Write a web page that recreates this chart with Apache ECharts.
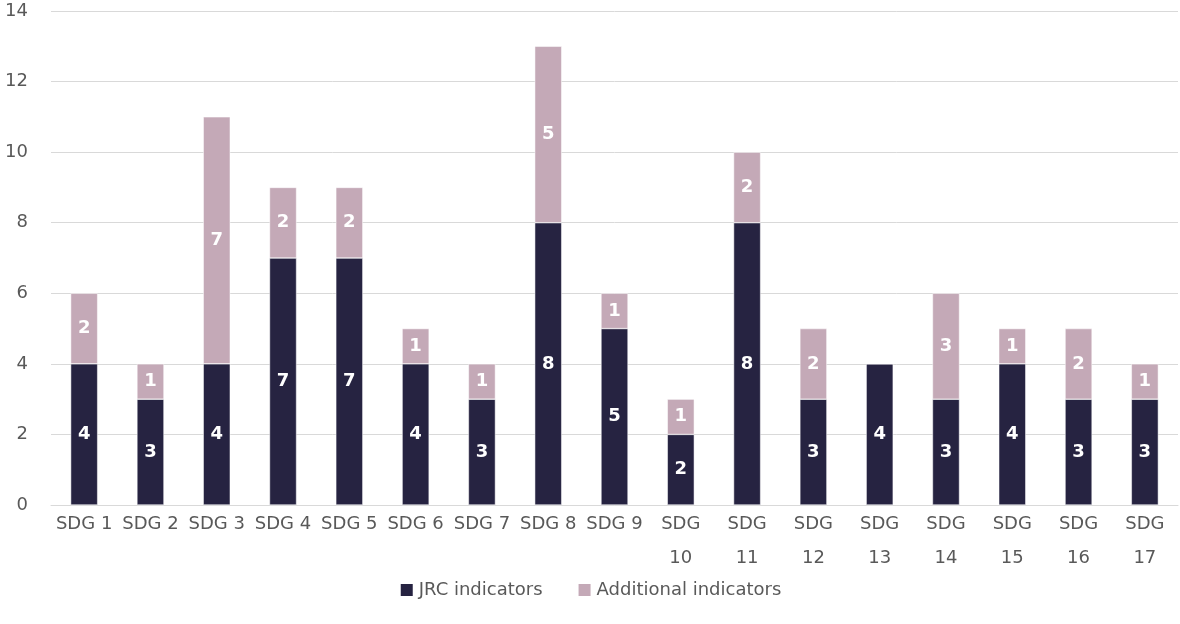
<!DOCTYPE html>
<html>
<head>
<meta charset="utf-8">
<script src="https://cdn.jsdelivr.net/npm/echarts@6/dist/echarts.min.js"></script>
<style>
  html, body { margin: 0; padding: 0; background: #fff; }
  #chart { width: 1180px; height: 624px; }
</style>
</head>
<body>
<div id="chart"></div>
<script>
// SDG goals on the horizontal axis
const categories = ['SDG 1', 'SDG 2', 'SDG 3', 'SDG 4', 'SDG 5', 'SDG 6', 'SDG 7', 'SDG 8', 'SDG 9',
  'SDG 10', 'SDG 11', 'SDG 12', 'SDG 13', 'SDG 14', 'SDG 15', 'SDG 16', 'SDG 17'];
// Number of indicators per goal
const jrcIndicators = [4, 3, 4, 7, 7, 4, 3, 8, 5, 2, 8, 3, 4, 3, 4, 3, 3];
const additionalIndicators = [2, 1, 7, 2, 2, 1, 1, 5, 1, 1, 2, 2, 0, 3, 1, 2, 1];
const seriesNames = ['JRC indicators', 'Additional indicators'];

const FONT = '"DejaVu Sans", "Noto Sans", sans-serif';
const TEXT = '#595959';

const chart = echarts.init(document.getElementById('chart'));

const labelStyle = {
  show: true,
  position: 'inside',
  color: '#ffffff',
  fontWeight: 'bold',
  fontSize: 18,
  fontFamily: FONT,
  formatter: p => (p.value ? String(p.value) : '')
};

chart.setOption({
  animation: false,
  grid: { left: 51, right: 2, top: 11, bottom: 119, outerBoundsMode: 'none', containLabel: false },
  legend: {
    data: seriesNames,
    bottom: 20,
    left: 'center',
    itemWidth: 14,
    itemHeight: 14,
    itemGap: 34,
    icon: 'rect',
    textStyle: { color: TEXT, fontSize: 18, fontFamily: FONT }
  },
  xAxis: {
    type: 'category',
    data: categories,
    axisLine: { lineStyle: { color: '#d9d9d9', width: 1 } },
    axisTick: { show: false },
    axisLabel: {
      color: TEXT,
      fontSize: 18,
      fontFamily: FONT,
      margin: 2,
      lineHeight: 34,
      interval: 0,
      formatter: v => (v.length > 5 ? v.replace(' ', '\n') : v)
    }
  },
  yAxis: {
    type: 'value',
    min: 0,
    max: 14,
    interval: 2,
    axisLine: { show: false },
    axisTick: { show: false },
    axisLabel: { color: TEXT, fontSize: 18, fontFamily: FONT, margin: 23 },
    splitLine: { lineStyle: { color: '#d9d9d9', width: 1 } }
  },
  series: [
    {
      name: seriesNames[0],
      type: 'bar',
      stack: 'total',
      barWidth: 27,
      data: jrcIndicators,
      itemStyle: { color: '#262341', borderColor: '#ffffff', borderWidth: 0.5 },
      label: labelStyle
    },
    {
      name: seriesNames[1],
      type: 'bar',
      stack: 'total',
      barWidth: 27,
      data: additionalIndicators,
      itemStyle: { color: '#c4a9b7', borderColor: '#ffffff', borderWidth: 0.5 },
      label: labelStyle
    }
  ]
});
</script>
</body>
</html>
